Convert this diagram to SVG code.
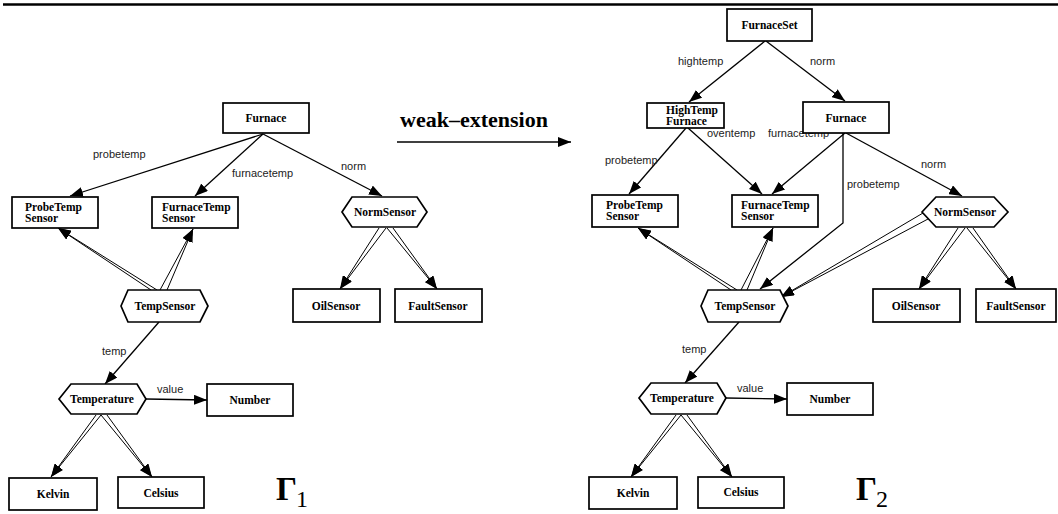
<svg xmlns="http://www.w3.org/2000/svg" width="1058" height="514" viewBox="0 0 1058 514">
<style>
.box{fill:#fff;stroke:#000;stroke-width:1.7}
.t{font-family:"Liberation Serif",serif;font-weight:bold;font-size:11.5px;fill:#000}
.c{text-anchor:middle}
.el{font-family:"Liberation Sans",sans-serif;font-size:11px;fill:#222}
.e{stroke:#000;stroke-width:1.3;fill:none;marker-end:url(#ah)}
.d{stroke:#000;stroke-width:1;fill:none;marker-end:url(#ah)}
.g{font-family:"Liberation Serif",serif;font-weight:bold;font-size:33px}
.s{font-family:"Liberation Serif",serif;font-size:24px}
</style>
<defs>
<marker id="ah" markerUnits="userSpaceOnUse" markerWidth="13" markerHeight="10" refX="13" refY="5" orient="auto">
<path d="M0,0 L13,5 L0,10 z" fill="#000"/>
</marker>
</defs>
<rect width="1058" height="514" fill="#fff"/>
<line x1="3" y1="4.5" x2="1058" y2="4.5" stroke="#000" stroke-width="2.6"/>

<g id="connectors">
<!-- left -->
<path class="e" d="M263,134 L70,196"/>
<path class="e" d="M263,134 L195,196"/>
<path class="e" d="M263,134 L382,196"/>
<path class="d" d="M151,290 L58,228"/><path class="d" d="M157,290 L58,228"/>
<path class="d" d="M160,290 L193,229"/><path class="d" d="M167,290 L193,229"/>
<path class="e" d="M159,322 L105,384"/>
<path class="e" d="M146,399 L207,400"/>
<path class="d" d="M96,415 L51,477"/><path class="d" d="M101,415 L51,477"/>
<path class="d" d="M101,415 L152,477"/><path class="d" d="M107,415 L152,477"/>
<path class="d" d="M379,228 L340,289"/><path class="d" d="M386,228 L340,289"/>
<path class="d" d="M387,228 L437,289"/><path class="d" d="M393,228 L437,289"/>
<!-- weak-extension -->
<path class="e" d="M397,142 L571,142"/>
<!-- right -->
<path class="e" d="M765,41 L689,102"/>
<path class="e" d="M766,41 L845,101"/>
<path class="e" d="M686,128 L629,194"/>
<path class="e" d="M688,128 L762,194"/>
<path class="e" d="M845,133 L772,194"/>
<path class="e" d="M846,133 L962,196"/>
<path class="e" d="M843,133 L843,223 L760,289"/>
<path class="d" d="M923,213 L781,297"/><path class="d" d="M928,219 L781,297"/>
<path class="d" d="M731,290 L638,228"/><path class="d" d="M737,290 L638,228"/>
<path class="d" d="M741,290 L773,228"/><path class="d" d="M747,290 L773,228"/>
<path class="e" d="M739,322 L685,383"/>
<path class="e" d="M726,398 L787,399"/>
<path class="d" d="M676,415 L631,477"/><path class="d" d="M681,415 L631,477"/>
<path class="d" d="M681,415 L732,477"/><path class="d" d="M687,415 L732,477"/>
<path class="d" d="M958,228 L919,289"/><path class="d" d="M965,228 L919,289"/>
<path class="d" d="M967,228 L1016,289"/><path class="d" d="M973,228 L1016,289"/>
</g>

<g id="edge-labels">
<text class="el" x="93" y="158">probetemp</text>
<text class="el" x="232" y="177">furnacetemp</text>
<text class="el" x="341" y="170">norm</text>
<text class="el" x="102" y="355">temp</text>
<text class="el" x="157" y="393">value</text>
<text class="el" x="678" y="65">hightemp</text>
<text class="el" x="810" y="65">norm</text>
<text class="el" x="605" y="164">probetemp</text>
<text class="el" x="707" y="137">oventemp</text>
<text class="el" x="768" y="137">furnacetemp</text>
<text class="el" x="847" y="188">probetemp</text>
<text class="el" x="921" y="168">norm</text>
<text class="el" x="682" y="353">temp</text>
<text class="el" x="737" y="392">value</text>
</g>

<g id="weak-extension">
<text x="400" y="127" font-family="Liberation Serif,serif" font-weight="bold" font-size="22">weak–extension</text>
</g>

<!-- left graph nodes -->
<g id="L-Furnace"><rect class="box" x="223" y="103" width="86" height="30"/><text class="t c" x="266" y="122">Furnace</text></g>
<g id="L-ProbeTempSensor"><rect class="box" x="12" y="197" width="86" height="31"/><text class="t" x="25" y="211">ProbeTemp</text><text class="t" x="25" y="222">Sensor</text></g>
<g id="L-FurnaceTempSensor"><rect class="box" x="152" y="197" width="86" height="31"/><text class="t" x="162" y="211">FurnaceTemp</text><text class="t" x="162" y="222">Sensor</text></g>
<g id="L-NormSensor"><polygon class="box" points="342,212 352,197 417,197 427,212 417,227 352,227"/><text class="t c" x="385" y="216">NormSensor</text></g>
<g id="L-OilSensor"><rect class="box" x="293" y="289" width="87" height="33"/><text class="t c" x="336" y="310">OilSensor</text></g>
<g id="L-FaultSensor"><rect class="box" x="395" y="289" width="87" height="33"/><text class="t c" x="438" y="310">FaultSensor</text></g>
<g id="L-TempSensor"><polygon class="box" points="121,306 128,290 200,290 208,306 200,322 128,322"/><text class="t c" x="165" y="310">TempSensor</text></g>
<g id="L-Temperature"><polygon class="box" points="59,399 71,384 137,384 146,399 137,414 71,414"/><text class="t c" x="102" y="403">Temperature</text></g>
<g id="L-Number"><rect class="box" x="207" y="384" width="86" height="32"/><text class="t c" x="250" y="404">Number</text></g>
<g id="L-Kelvin"><rect class="box" x="9" y="478" width="88" height="32"/><text class="t c" x="53" y="498">Kelvin</text></g>
<g id="L-Celsius"><rect class="box" x="118" y="477" width="86" height="31"/><text class="t c" x="161" y="497">Celsius</text></g>
<g id="Gamma1"><text class="g" x="276" y="500">Γ</text><text class="s" x="296" y="507">1</text></g>

<!-- right graph nodes -->
<g id="R-FurnaceSet"><rect class="box" x="727" y="9" width="85" height="32"/><text class="t c" x="769.5" y="29">FurnaceSet</text></g>
<g id="R-HighTempFurnace"><rect class="box" x="647" y="103" width="77" height="25"/><text class="t" x="666" y="114" font-size="11">HighTemp</text><text class="t" x="666" y="124.5" font-size="11">Furnace</text></g>
<g id="R-Furnace"><rect class="box" x="803" y="102" width="86" height="31"/><text class="t c" x="846" y="122">Furnace</text></g>
<g id="R-ProbeTempSensor"><rect class="box" x="592" y="195" width="86" height="32"/><text class="t" x="606" y="209">ProbeTemp</text><text class="t" x="606" y="220">Sensor</text></g>
<g id="R-FurnaceTempSensor"><rect class="box" x="732" y="195" width="86" height="32"/><text class="t" x="741" y="209">FurnaceTemp</text><text class="t" x="741" y="220">Sensor</text></g>
<g id="R-NormSensor"><polygon class="box" points="922,212 936,197 994,197 1008,212 994,227 936,227"/><text class="t c" x="965" y="216">NormSensor</text></g>
<g id="R-OilSensor"><rect class="box" x="873" y="289" width="87" height="33"/><text class="t c" x="916" y="310">OilSensor</text></g>
<g id="R-FaultSensor"><rect class="box" x="976" y="289" width="80" height="33"/><text class="t c" x="1016" y="310">FaultSensor</text></g>
<g id="R-TempSensor"><polygon class="box" points="701,306 708,290 780,290 788,306 780,322 708,322"/><text class="t c" x="745" y="310">TempSensor</text></g>
<g id="R-Temperature"><polygon class="box" points="639,398 651,383 717,383 726,398 717,414 651,414"/><text class="t c" x="682" y="402">Temperature</text></g>
<g id="R-Number"><rect class="box" x="787" y="383" width="86" height="32"/><text class="t c" x="830" y="403">Number</text></g>
<g id="R-Kelvin"><rect class="box" x="589" y="477" width="88" height="32"/><text class="t c" x="633" y="497">Kelvin</text></g>
<g id="R-Celsius"><rect class="box" x="698" y="477" width="86" height="31"/><text class="t c" x="741" y="496">Celsius</text></g>
<g id="Gamma2"><text class="g" x="856" y="500">Γ</text><text class="s" x="876" y="507">2</text></g>
</svg>
